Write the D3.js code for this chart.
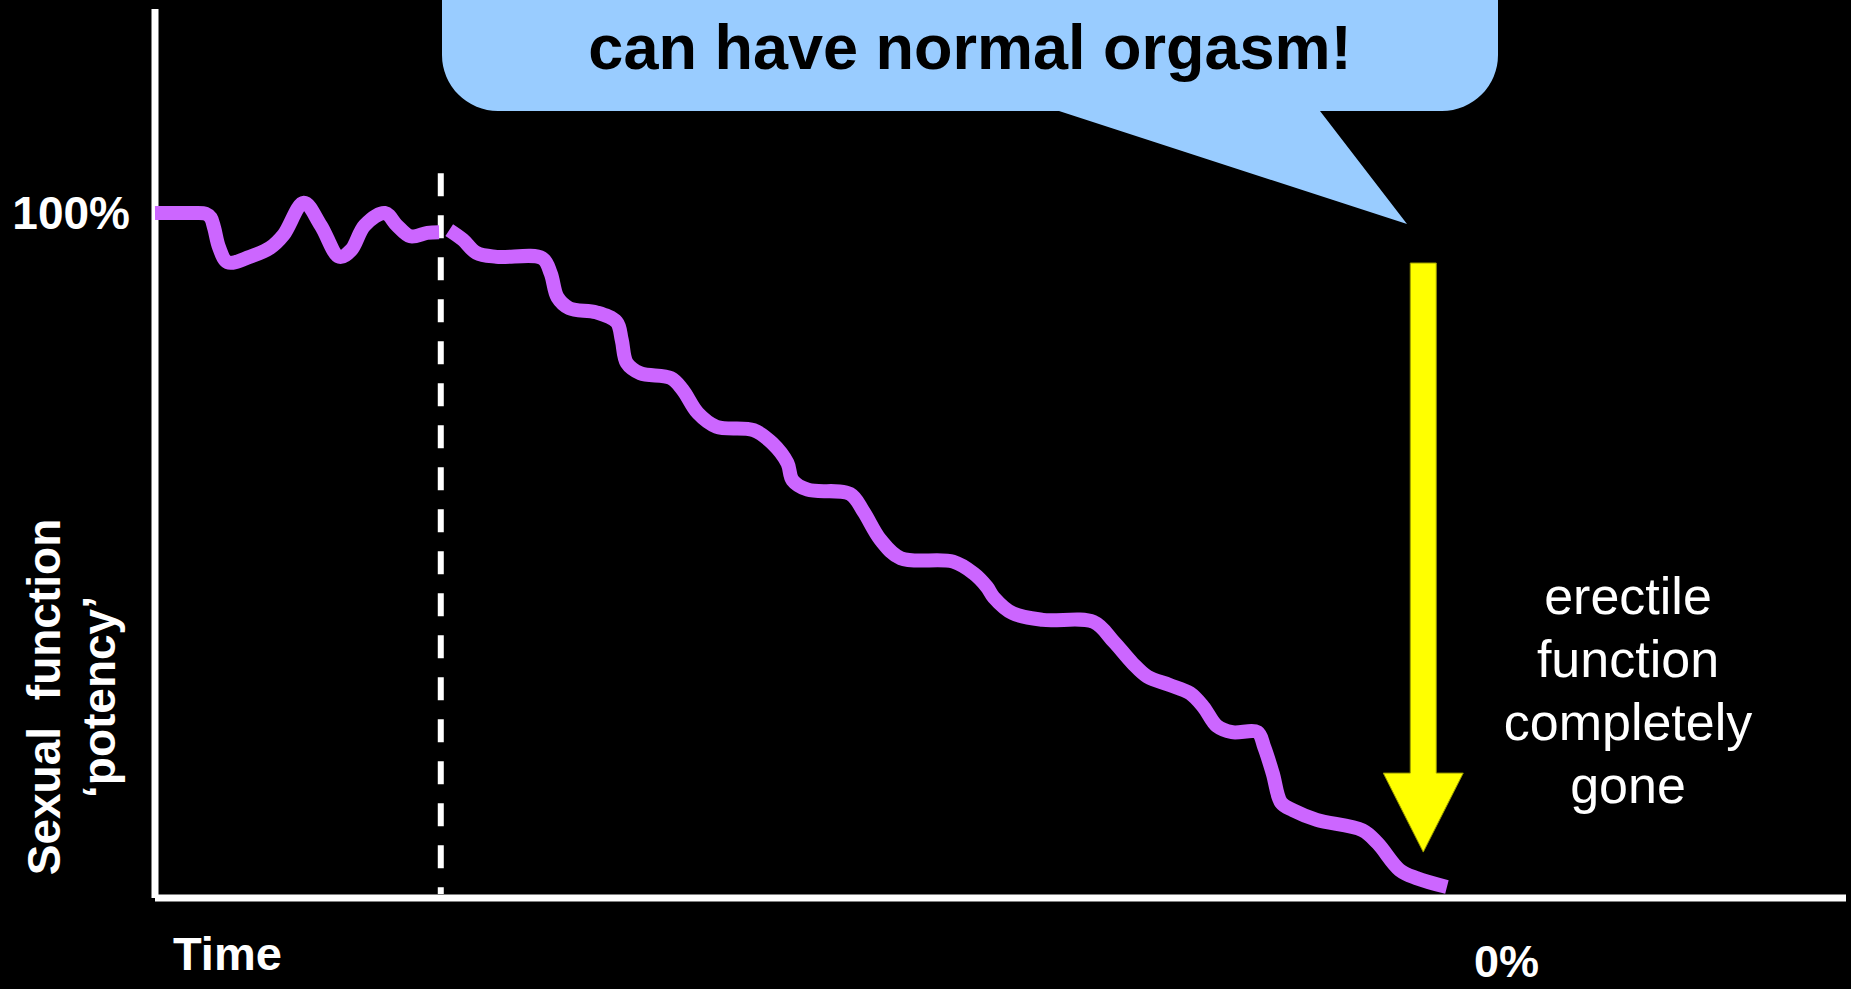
<!DOCTYPE html>
<html>
<head>
<meta charset="utf-8">
<script src="https://cdn.jsdelivr.net/npm/d3@7"></script>
<style>
  body { margin: 0; background: #000; }
  svg { display: block; }
  text { font-family: "Liberation Sans", Arial, Helvetica, sans-serif; }
</style>
</head>
<body>
<svg id="chart" width="1851" height="989"></svg>
<script>
// potency curve, before the dashed marker (time 0-100, potency in %)
const timeBefore = [0, 2.1, 3.0, 3.3, 3.5, 3.8, 4.3, 5.6, 6.8, 7.6, 8.8, 9.8, 10.9, 11.6, 12.4, 13.6, 14.3, 15.1, 16.1, 16.8];
const potencyBefore = [100, 100, 99.9, 99.3, 97.8, 94.9, 92.8, 93.6, 94.9, 96.8, 101.5, 98.2, 93.6, 94.6, 98.2, 100, 98.2, 96.6, 97.1, 97.2];

// potency curve, after the dashed marker
const timeAfter = [17.4, 18.2, 19.0, 20.2, 22.9, 23.4, 23.8, 24.5, 26.1, 27.3, 27.6, 27.9, 28.7, 30.5, 31.2, 32.1, 33.2, 35.4,
  36.5, 37.4, 37.7, 38.6, 41.1, 41.9, 42.9, 44.1, 47.2, 48.4, 49.2, 49.6, 50.7, 52.5, 55.5, 56.7, 57.8, 58.7, 60.0, 61.2,
  62.0, 62.8, 63.7, 65.2, 65.6, 66.1, 66.6, 67.3, 68.7, 71.4, 72.3, 73.6, 74.6, 76.4];
const potencyAfter = [97.5, 96.1, 94.2, 93.6, 93.4, 91.2, 87.7, 86.1, 85.5, 84.1, 81.5, 78.1, 76.6, 75.9, 74.2, 70.8, 68.8, 68.3,
  66.4, 63.5, 61.0, 59.6, 59.0, 56.4, 52.3, 49.6, 49.1, 47.4, 45.4, 43.9, 41.6, 40.6, 40.3, 37.4, 34.3, 32.3, 31.1, 29.9,
  27.9, 25.1, 24.2, 24.2, 22.0, 18.2, 13.9, 12.8, 11.4, 9.9, 8.0, 4.1, 2.9, 1.6];

const tickLabels = ["100%", "0%"];
const markerTime = 16.9;
const markerTop = 105.8;
const arrowTime = 75;
const arrowFrom = 92.7;
const arrowTo = 6.7;
const calloutText = "can have normal orgasm!";
const noteLines = ["erectile", "function", "completely", "gone"];
const yTitle = ["Sexual function", "\u2018potency\u2019"];
const xTitle = "Time";

const svg = d3.select("#chart");
const width = +svg.attr("width");
const height = +svg.attr("height");

const plot = { left: 155, right: 1846, top: 9, bottom: 898 };

const x = d3.scaleLinear().domain([0, 100]).range([plot.left, plot.right]);
const y = d3.scaleLinear().domain([0, 100]).range([plot.bottom, 213]);

svg.append("rect")
  .attr("width", width)
  .attr("height", height)
  .attr("fill", "#000");

// axes
svg.append("line")
  .attr("x1", plot.left).attr("x2", plot.left)
  .attr("y1", plot.top).attr("y2", plot.bottom)
  .attr("stroke", "#fff").attr("stroke-width", 7);

svg.append("line")
  .attr("x1", plot.left).attr("x2", plot.right)
  .attr("y1", plot.bottom).attr("y2", plot.bottom)
  .attr("stroke", "#fff").attr("stroke-width", 7);

// dashed marker
svg.append("line")
  .attr("x1", x(markerTime)).attr("x2", x(markerTime))
  .attr("y1", y(markerTop)).attr("y2", plot.bottom - 4)
  .attr("stroke", "#fff")
  .attr("stroke-width", 6)
  .attr("stroke-dasharray", "23,19");

// potency line
const line = d3.line()
  .x(d => x(d[0]))
  .y(d => y(d[1]))
  .curve(d3.curveCatmullRom.alpha(0.5));

const segments = [
  d3.zip(timeBefore, potencyBefore),
  d3.zip(timeAfter, potencyAfter)
];

svg.selectAll(".potency")
  .data(segments)
  .enter()
  .append("path")
  .attr("class", "potency")
  .attr("d", line)
  .attr("fill", "none")
  .attr("stroke", "#cc66ff")
  .attr("stroke-width", 14)
  .attr("stroke-linejoin", "round")
  .attr("stroke-linecap", "butt");

// callout bubble
const bx0 = 442, bx1 = 1498, by = 111, r = 56;
svg.append("path")
  .attr("d", `M${bx0},-20 L${bx1},-20 L${bx1},${by - r} A${r},${r} 0 0 1 ${bx1 - r},${by}
    L1320,${by} L1407,224 L1059,${by} L${bx0 + r},${by} A${r},${r} 0 0 1 ${bx0},${by - r} Z`)
  .attr("fill", "#99ccff");

svg.append("text")
  .attr("x", (bx0 + bx1) / 2)
  .attr("y", 69)
  .attr("text-anchor", "middle")
  .attr("font-size", 63)
  .attr("font-weight", "bold")
  .attr("fill", "#000")
  .text(calloutText);

// yellow arrow
const ax = x(arrowTime);
const shaftW = 13, headW = 40, headH = 79;
const aTop = y(arrowFrom), aTip = y(arrowTo);
svg.append("path")
  .attr("d", `M${ax - shaftW},${aTop} L${ax + shaftW},${aTop} L${ax + shaftW},${aTip - headH}
    L${ax + headW},${aTip - headH} L${ax},${aTip} L${ax - headW},${aTip - headH}
    L${ax - shaftW},${aTip - headH} Z`)
  .attr("fill", "#ffff00")
  .attr("stroke", "#9a9a00")
  .attr("stroke-width", 1);

// note text
svg.selectAll(".note")
  .data(noteLines)
  .enter()
  .append("text")
  .attr("class", "note")
  .attr("x", 1628)
  .attr("y", (d, i) => 614 + i * 63)
  .attr("text-anchor", "middle")
  .attr("font-size", 52)
  .attr("fill", "#fff")
  .text(d => d);

// tick labels
svg.append("text")
  .attr("x", 130)
  .attr("y", y(100) + 16)
  .attr("text-anchor", "end")
  .attr("font-size", 46)
  .attr("font-weight", "bold")
  .attr("fill", "#fff")
  .text(tickLabels[0]);

svg.append("text")
  .attr("x", 1474)
  .attr("y", 977)
  .attr("font-size", 45)
  .attr("font-weight", "bold")
  .attr("fill", "#fff")
  .text(tickLabels[1]);

// axis titles
svg.append("text")
  .attr("x", 173)
  .attr("y", 970)
  .attr("font-size", 47)
  .attr("font-weight", "bold")
  .attr("fill", "#fff")
  .text(xTitle);

const yT = svg.append("g")
  .attr("transform", "translate(60,697) rotate(-90)");

yT.selectAll("text")
  .data(yTitle)
  .enter()
  .append("text")
  .attr("x", 0)
  .attr("y", (d, i) => i * 55)
  .attr("text-anchor", "middle")
  .attr("font-size", 46)
  .attr("font-weight", "bold")
  .attr("word-spacing", (d, i) => i === 0 ? 14 : 0)
  .attr("fill", "#fff")
  .text(d => d);
</script>
</body>
</html>
